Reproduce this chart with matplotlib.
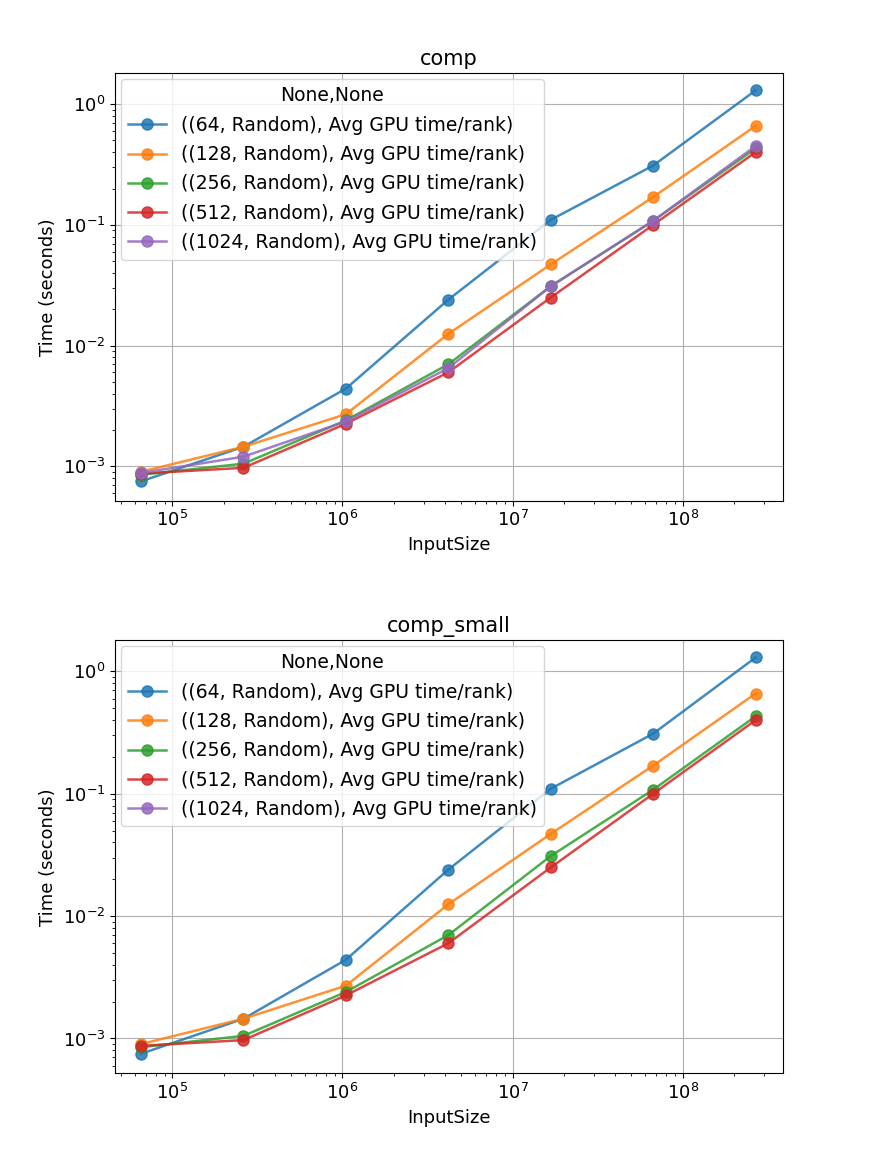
import matplotlib
matplotlib.use("Agg")
import matplotlib.pyplot as plt
import numpy as np

x = [65536, 262144, 1048576, 4194304, 16777216, 67108864, 268435456]
labels = ["((64, Random), Avg GPU time/rank)", "((128, Random), Avg GPU time/rank)",
          "((256, Random), Avg GPU time/rank)", "((512, Random), Avg GPU time/rank)",
          "((1024, Random), Avg GPU time/rank)"]
comp = [
    [7.5e-4, 1.45e-3, 4.4e-3, 2.4e-2, 1.1e-1, 3.1e-1, 1.3],
    [9.0e-4, 1.45e-3, 2.7e-3, 1.25e-2, 4.7e-2, 1.7e-1, 6.6e-1],
    [8.5e-4, 1.05e-3, 2.4e-3, 7.0e-3, 3.1e-2, 1.08e-1, 4.3e-1],
    [8.7e-4, 9.7e-4, 2.25e-3, 6.0e-3, 2.5e-2, 1.0e-1, 4.0e-1],
    [8.8e-4, 1.2e-3, 2.35e-3, 6.5e-3, 3.1e-2, 1.08e-1, 4.5e-1],
]
comp_small = [
    [7.5e-4, 1.45e-3, 4.4e-3, 2.4e-2, 1.1e-1, 3.1e-1, 1.3],
    [9.0e-4, 1.45e-3, 2.7e-3, 1.25e-2, 4.7e-2, 1.7e-1, 6.6e-1],
    [8.5e-4, 1.05e-3, 2.4e-3, 7.0e-3, 3.1e-2, 1.08e-1, 4.3e-1],
    [8.7e-4, 9.7e-4, 2.25e-3, 6.0e-3, 2.5e-2, 1.0e-1, 4.0e-1],
    [np.nan] * 7,
]
colors = ["#1f77b4", "#ff7f0e", "#2ca02c", "#d62728", "#9467bd"]

plt.rcParams["font.size"] = 13
fig = plt.figure(figsize=(8.84, 11.64), dpi=100)
ax1 = fig.add_axes([0.130, 0.570, 0.756, 0.367])
ax2 = fig.add_axes([0.130, 0.078, 0.756, 0.372])
for ax, data, title in [(ax1, comp, "comp"), (ax2, comp_small, "comp_small")]:
    for ys, lab, c in zip(data, labels, colors):
        ax.plot(x, ys, marker="o", markersize=8, color=c, label=lab, lw=1.8, alpha=0.85)
    ax.set_xscale("log")
    ax.set_yscale("log")
    ax.set_xlim(4.6e4, 3.9e8)
    ax.set_ylim(5.2e-4, 1.8)
    ax.grid(True, which="major")
    ax.set_title(title, fontsize=15)
    ax.set_xlabel("InputSize")
    ax.set_ylabel("Time (seconds)")
    ax.legend(title="None,None", loc="upper left", fontsize=13.5, title_fontsize=13.5,
              borderaxespad=0.3, labelspacing=0.55)
fig.savefig("out.png", dpi=100)
